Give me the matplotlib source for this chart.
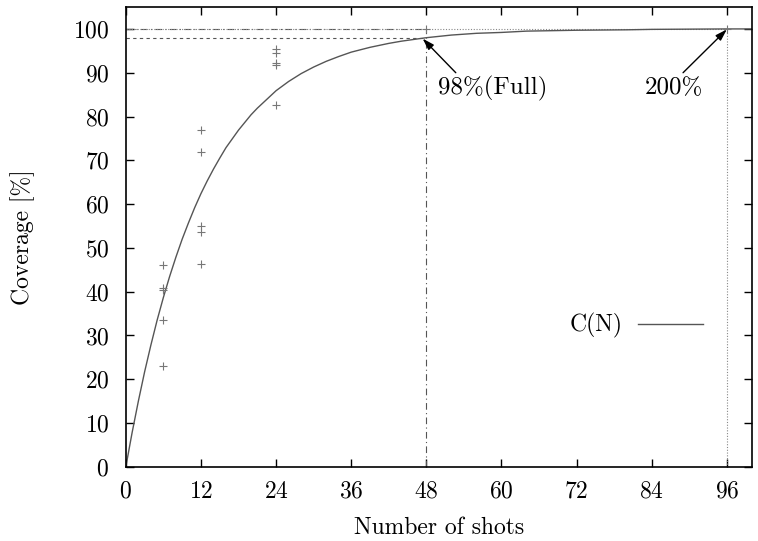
import numpy as np
import matplotlib as mpl
import matplotlib.pyplot as plt

mpl.rcParams['font.family'] = 'serif'
mpl.rcParams['font.serif'] = ['cmr10', 'DejaVu Serif']
mpl.rcParams['mathtext.fontset'] = 'cm'
mpl.rcParams['axes.formatter.use_mathtext'] = True

# coverage curve C(N)
curve_n = [0, 1, 2, 3, 4, 5, 6, 7, 8, 9, 10, 11, 12, 13, 14, 15, 16, 18, 20, 21, 24,
           26, 28, 30, 32, 34, 36, 39, 42, 44, 48, 52, 56, 60, 64, 72, 80, 84, 96, 100]
curve_c = [0, 7.8, 15.0, 21.7, 27.8, 33.5, 38.7, 43.5, 47.9, 52.0, 55.7, 59.2, 62.4,
           65.3, 68.0, 70.5, 72.9, 76.9, 80.4, 81.9, 85.9, 88.0, 89.8, 91.3, 92.6, 93.7,
           94.7, 95.8, 96.7, 97.2, 98.0, 98.6, 99.0, 99.2, 99.5, 99.7, 99.8, 99.9, 100, 100]

# measured points
shots = [6, 6, 6, 6, 6, 12, 12, 12, 12, 12, 24, 24, 24, 24, 24, 48, 96]
coverage = [46.2, 40.8, 40.3, 33.6, 23.0, 77.0, 72.0, 55.0, 53.7, 46.4,
            95.5, 94.6, 92.3, 91.7, 82.6, 100, 100]

xticks = [0, 12, 24, 36, 48, 60, 72, 84, 96]
yticks = [0, 10, 20, 30, 40, 50, 60, 70, 80, 90, 100]

fig = plt.figure(figsize=(7.58, 5.41), dpi=100)
ax = fig.add_axes([0.166, 0.137, 0.826, 0.850])

# reference lines
ax.plot([0, 48], [98, 98], color='#555555', lw=0.8, ls=(0, (3, 3)))
ax.plot([48, 48], [0, 100], color='#555555', lw=0.8, ls=(0, (6, 3, 1, 3)))
ax.plot([0, 48], [100, 100], color='#555555', lw=0.8, ls=(0, (6, 3, 1, 3)))
ax.plot([0, 96], [100, 100], color='#888888', lw=0.8, ls=(0, (1, 1.5)))
ax.plot([96, 96], [0, 100], color='#888888', lw=0.8, ls=(0, (1, 1.5)))

ax.plot(curve_n, curve_c, color='#555555', lw=1.0, label='C(N)')
ax.plot(shots, coverage, ls='none', marker='+', ms=5.5, mew=0.8, color='#777777')

arrow = dict(arrowstyle='-|>,head_length=0.7,head_width=0.22', color='black', lw=1.0,
             shrinkA=0, shrinkB=0)
ax.annotate('', xy=(47.4, 97.8), xytext=(52.7, 90.0), arrowprops=arrow)
ax.annotate('', xy=(96, 99.9), xytext=(89.0, 90.0), arrowprops=arrow)
ax.text(49.8, 86.4, '98%(Full)', fontsize=18, ha='left', va='center')
ax.text(87.6, 86.4, '200%', fontsize=18, ha='center', va='center')

ax.set_xlim(0, 100)
ax.set_ylim(0, 105)
ax.set_xticks(xticks)
ax.set_yticks(yticks)
ax.tick_params(direction='in', length=6, width=1, top=True, right=True, labelsize=17)
ax.tick_params(axis='y', pad=12)
ax.tick_params(axis='x', pad=10)
for s in ax.spines.values():
    s.set_linewidth(1.2)

ax.set_xlabel('Number of shots', fontsize=17, labelpad=10)
ax.set_ylabel('Coverage [%]', fontsize=17, labelpad=27)

ax.legend(loc='center right', bbox_to_anchor=(0.922, 0.3065), frameon=False, markerfirst=False,
          handlelength=2.75, handletextpad=0.65, borderpad=0, borderaxespad=0, fontsize=17)

fig.savefig('out.png', dpi=100)
